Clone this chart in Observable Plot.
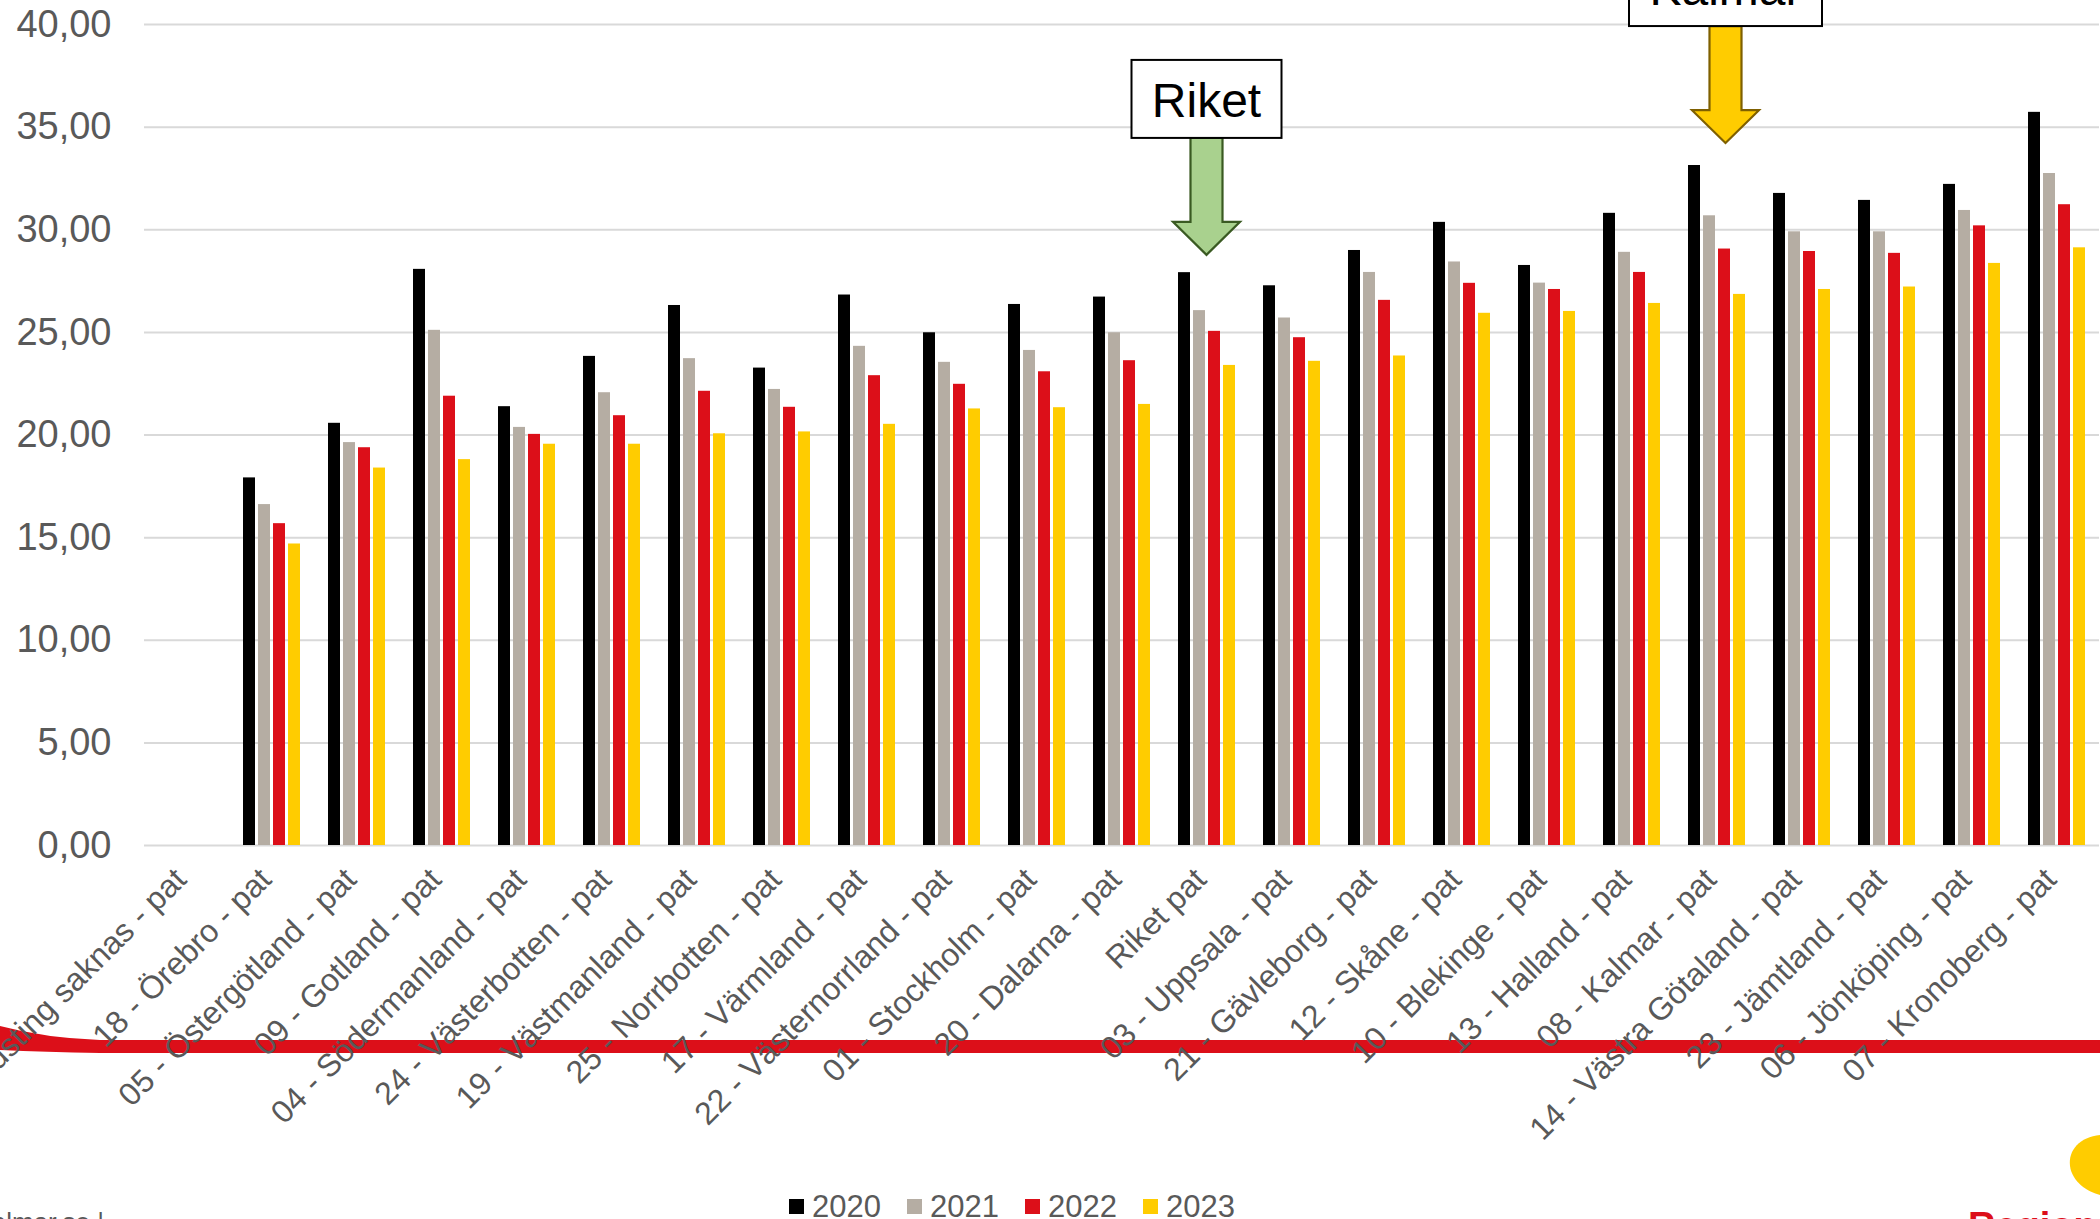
<!DOCTYPE html>
<html>
<head>
<meta charset="utf-8">
<script src="https://cdn.jsdelivr.net/npm/d3@7"></script>
<script src="https://cdn.jsdelivr.net/npm/@observablehq/plot@0.6"></script>
<style>
  html, body { margin: 0; padding: 0; background: #fff; overflow: hidden; width: 2100px; height: 1219px; }
  #wrap { position: relative; width: 2100px; height: 1219px; overflow: hidden; font-family: "Liberation Sans", Arial, sans-serif; }
  #swoosh { position: absolute; left: 0; top: 0; z-index: 0; }
  #chart { position: absolute; left: 0; top: 0; z-index: 1; }
  #legend { position: absolute; left: 789px; top: 1191px; display: flex; align-items: center; font-size: 31px; line-height: 31px; color: #595959; z-index: 2; }
  #legend .item { display: flex; align-items: center; margin-right: 26px; }
  #legend .sw { width: 15px; height: 15px; margin-right: 8px; }
  #site { position: absolute; left: -200px; width: 304px; top: 1209px; text-align: right; font-size: 26px; line-height: 26px; color: #595959; z-index: 2; white-space: nowrap; }
  #logoText { position: absolute; left: 1968px; top: 1207px; font-size: 38px; line-height: 38px; color: #DC0F19; font-weight: bold; white-space: nowrap; z-index: 2; }
</style>
</head>
<body>
<div id="wrap">
  <svg id="swoosh" width="2100" height="1219">
    <path d="M0,1026 Q45,1038 100,1040 L2100,1040 L2100,1053 L100,1053 Q45,1052 0,1050 Z" fill="#DC0F19"></path>
    <path d="M2100,1135 C2080,1137 2068,1150 2070,1166 C2072,1182 2088,1192 2100,1195 Z" fill="#FFCC00"></path>
  </svg>
  <div id="chart"></div>
  <div id="legend"></div>
  <div id="site">regionkalmar.se |</div>
  <div id="logoText">Region Kalmar län</div>
</div>
<script>
// ---- data ----
const categories = [
  "Landsting saknas - pat", "18 - Örebro - pat", "05 - Östergötland - pat", "09 - Gotland - pat",
  "04 - Södermanland - pat", "24 - Västerbotten - pat", "19 - Västmanland - pat", "25 - Norrbotten - pat",
  "17 - Värmland - pat", "22 - Västernorrland - pat", "01 - Stockholm - pat", "20 - Dalarna - pat",
  "Riket pat", "03 - Uppsala - pat", "21 - Gävleborg - pat", "12 - Skåne - pat", "10 - Blekinge - pat",
  "13 - Halland - pat", "08 - Kalmar - pat", "14 - Västra Götaland - pat", "23 - Jämtland - pat",
  "06 - Jönköping - pat", "07 - Kronoberg - pat"
];
const years = ["2020", "2021", "2022", "2023"];
const v2020 = [null, 17.91, 20.57, 28.07, 21.38, 23.83, 26.31, 23.26, 26.82, 24.98, 26.36, 26.72, 27.91, 27.27, 28.99, 30.36, 28.26, 30.80, 33.13, 31.77, 31.43, 32.21, 35.72];
const v2021 = [null, 16.61, 19.63, 25.10, 20.37, 22.06, 23.72, 22.22, 24.32, 23.54, 24.12, 24.98, 26.06, 25.70, 27.92, 28.43, 27.40, 28.90, 30.68, 29.90, 29.90, 30.94, 32.74];
const v2022 = [null, 15.68, 19.38, 21.89, 20.03, 20.94, 22.13, 21.35, 22.89, 22.47, 23.08, 23.62, 25.05, 24.74, 26.56, 27.39, 27.09, 27.92, 29.06, 28.94, 28.85, 30.19, 31.22];
const v2023 = [null, 14.69, 18.39, 18.80, 19.55, 19.55, 20.06, 20.15, 20.52, 21.27, 21.33, 21.49, 23.39, 23.59, 23.85, 25.93, 26.02, 26.41, 26.85, 27.09, 27.21, 28.36, 29.12];
const yTicks = [0, 5, 10, 15, 20, 25, 30, 35, 40];
const yearColors = ["#000000", "#B5ADA3", "#DC0F19", "#FFCC00"];

// annotation callouts (values in y-axis units)
const annotations = [
  {label: "Riket", category: "Riket pat", boxTop: 38.25, boxBottom: 34.45, headTop: 30.36, tip: 28.75, boxWidth: 150, fill: "#A9D18E", stroke: "#3A5A22", dx: 0},
  {label: "Kalmar", category: "08 - Kalmar - pat", boxTop: 43.7, boxBottom: 39.9, headTop: 35.8, tip: 34.2, boxWidth: 193, fill: "#FFCC00", stroke: "#7F6000", dx: 9}
];

// ---- build table ----
const series = [v2020, v2021, v2022, v2023];
const rows = [];
categories.forEach((c, i) => years.forEach((yr, j) => {
  const v = series[j][i];
  if (v != null) rows.push({category: c, year: yr, value: v});
}));

const H = 1190;
const chart = Plot.plot({
  width: 2100,
  height: H,
  marginLeft: 142,
  marginRight: 0,
  marginTop: 24,
  marginBottom: H - 845,
  style: {fontFamily: '"Liberation Sans", Arial, sans-serif', background: "transparent", overflow: "visible"},
  fx: {domain: categories, paddingInner: 0, paddingOuter: 0, axis: null, label: null},
  x: {domain: years, paddingInner: 0.226, paddingOuter: 0.86, axis: null},
  y: {domain: [0, 40], axis: null},
  color: {domain: years, range: yearColors},
  marks: [
    Plot.ruleY(yTicks, {stroke: "#D9D9D9", strokeWidth: 2}),
    Plot.barY(rows, {fx: "category", x: "year", y: "value", fill: "year"}),
    Plot.axisY(yTicks, {
      anchor: "left", tickSize: 0, tickPadding: 33, fontSize: 38, color: "#595959", label: null,
      tickFormat: d => d.toFixed(2).replace(".", ",")
    }),
    Plot.text(categories, {
      fx: d => d, text: d => d, frameAnchor: "bottom", rotate: -45, textAnchor: "end",
      dx: 1, dy: 36, fontSize: 32, fill: "#595959"
    })
  ]
});
document.getElementById("chart").appendChild(chart);

// ---- callouts through Plot's scales ----
const fxS = chart.scale("fx");
const yS = chart.scale("y");
const svg = d3.select(chart);
const g = svg.append("g").attr("class", "callouts");
annotations.forEach(a => {
  const cx = fxS.apply(a.category) + fxS.bandwidth / 2 + a.dx;
  const yb = yS.apply(a.boxBottom), yt = yS.apply(a.boxTop);
  const yh = yS.apply(a.headTop), ytip = yS.apply(a.tip);
  const sw = 16, hw = 33.5;
  const pts = [[cx - sw, yb], [cx + sw, yb], [cx + sw, yh], [cx + hw, yh], [cx, ytip], [cx - hw, yh], [cx - sw, yh]];
  g.append("path")
    .attr("d", "M" + pts.map(p => p.join(",")).join("L") + "Z")
    .attr("fill", a.fill).attr("stroke", a.stroke).attr("stroke-width", 2.2).attr("stroke-linejoin", "miter");
  g.append("rect")
    .attr("x", cx - a.boxWidth / 2).attr("y", yt)
    .attr("width", a.boxWidth).attr("height", yb - yt)
    .attr("fill", "#fff").attr("stroke", "#000").attr("stroke-width", 2);
  g.append("text")
    .attr("x", cx).attr("y", yb - 21)
    .attr("text-anchor", "middle").attr("font-size", 48).attr("fill", "#000")
    .text(a.label);
});

// ---- legend ----
const legend = d3.select("#legend");
years.forEach((yr, i) => {
  const it = legend.append("div").attr("class", "item");
  it.append("div").attr("class", "sw").style("background", yearColors[i]);
  it.append("span").text(yr);
});
</script>
</body>
</html>
